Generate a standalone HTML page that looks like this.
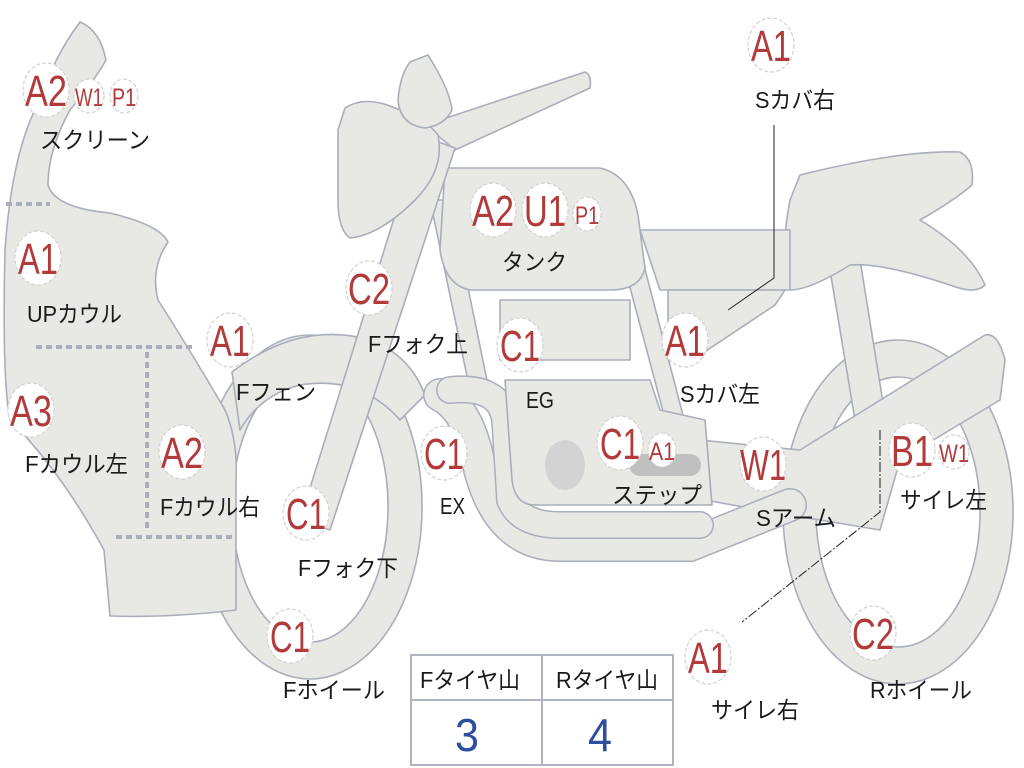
<!DOCTYPE html>
<html><head><meta charset="utf-8"><style>
html,body{margin:0;padding:0;background:#fff;}
svg{display:block;}
.s{fill:#e8e8e5;stroke:#a9aeba;stroke-width:1.6;stroke-linejoin:round;}
.b{fill:#fff;stroke:#d2d2d2;stroke-width:1.2;stroke-dasharray:4 2;}
.r{fill:#b23a3a;font-family:"Liberation Sans",sans-serif;text-anchor:middle;}
.l{fill:#1a1a1a;font-family:"Liberation Sans","Noto Sans CJK JP",sans-serif;font-size:23px;}
</style></head><body>
<svg width="1024" height="768" viewBox="0 0 1024 768" xmlns="http://www.w3.org/2000/svg">
<path class="s" fill-rule="evenodd" d="M310,335 a112,172 0 1,0 0.1,0 Z M310,372 a78,135 0 1,0 0.1,0 Z"/>
<path class="s" fill-rule="evenodd" d="M898,340 a115,172 0 1,0 0.1,0 Z M898,377 a82,135 0 1,0 0.1,0 Z"/>
<path class="s" d="M232,372 Q300,320 370,340 Q410,355 425,395 L400,420 Q360,375 300,385 Q260,395 240,430 Z"/>
<path class="s" d="M80,22 Q100,30 106,60 Q95,80 70,110 Q48,150 48,185 Q55,208 110,213 Q160,225 168,242 Q150,268 158,300 Q190,350 225,410 Q238,440 236,480 L236,610 Q170,618 110,616 L104,550 Q60,470 10,420 Q2,380 5,250 Q12,150 40,100 Q55,55 80,22 Z"/>
<g stroke="#a9aeba" stroke-width="4" stroke-dasharray="6 4" fill="none">
<path d="M6,204 H50"/><path d="M36,347 H192"/><path d="M147,352 V530"/><path d="M116,537 H232"/></g>
<path class="s" d="M830,270 L860,260 L885,415 L855,420 Z"/>
<path class="s" d="M800,175 Q900,150 960,152 Q975,160 972,185 Q955,200 920,220 Q970,250 985,285 Q975,295 950,285 Q880,262 850,265 Q810,290 790,290 Q780,250 790,200 Z"/>
<path class="s" d="M640,230 L790,230 L790,290 L660,290 Z"/>
<path class="s" d="M668,290 L785,290 L775,305 L700,355 L668,345 Z"/>
<path class="s" d="M700,440 L800,450 L985,335 Q998,332 1005,360 L1000,400 L900,460 L880,530 L760,510 L705,500 Z"/>
<path class="s" d="M430,200 L450,200 L490,395 L472,400 Z"/>
<path class="s" d="M620,250 L640,250 L705,500 L688,505 Z"/>
<path d="M440,395 Q470,410 480,470 Q500,545 560,545 L690,545 L790,505" fill="none" stroke="#a9aeba" stroke-width="34" stroke-linecap="round"/>
<path d="M440,395 Q470,410 480,470 Q500,545 560,545 L690,545 L790,505" fill="none" stroke="#e8e8e5" stroke-width="31" stroke-linecap="round"/>
<path d="M450,390 Q500,385 505,420 L510,500 Q520,525 560,525 L700,525" fill="none" stroke="#a9aeba" stroke-width="28" stroke-linecap="round"/>
<path d="M450,390 Q500,385 505,420 L510,500 Q520,525 560,525 L700,525" fill="none" stroke="#e8e8e5" stroke-width="25" stroke-linecap="round"/>
<path class="s" d="M500,300 H630 V360 H500 Z"/>
<path class="s" d="M505,380 H650 L660,410 L705,420 L712,505 L535,505 Q515,505 512,480 Z"/>
<ellipse cx="565" cy="465" rx="20" ry="25" fill="#d3d3d3"/>
<path d="M640,465 L690,465" stroke="#c0c0c0" stroke-width="22" stroke-linecap="round"/>
<path class="s" d="M445,168 L600,168 Q630,175 638,215 L645,268 Q640,290 610,290 L470,290 Q445,285 440,250 Z"/>
<path class="s" d="M425,125 L585,72 Q592,75 590,88 L455,150 Z"/>
<path class="s" d="M420,135 L455,148 L330,530 L300,520 Z"/>
<path class="s" d="M345,108 Q365,95 395,108 Q425,118 438,135 Q445,170 415,200 Q380,235 350,238 Q338,230 338,200 L338,130 Z"/>
<path class="s" d="M410,62 L428,55 Q450,90 452,110 Q445,125 425,128 Q400,125 398,100 Q400,75 410,62 Z"/>
<g stroke="#222" stroke-width="1" fill="none">
<path d="M774,125 V278 L728,310"/>
<path d="M880,430 V512 L742,622" stroke-dasharray="10 2 2 2"/>
</g>
<g>
<ellipse class="b" cx="46" cy="90" rx="23" ry="27"/><text class="r" x="46" y="106" font-size="44" textLength="42" lengthAdjust="spacingAndGlyphs">A2</text>
<ellipse class="b" cx="89" cy="96" rx="15" ry="17"/><text class="r" x="89" y="106" font-size="25" textLength="28" lengthAdjust="spacingAndGlyphs">W1</text>
<ellipse class="b" cx="124" cy="96" rx="14" ry="17"/><text class="r" x="124" y="106" font-size="25" textLength="24" lengthAdjust="spacingAndGlyphs">P1</text>
<ellipse class="b" cx="38" cy="258" rx="23" ry="27"/><text class="r" x="38" y="274" font-size="44" textLength="40" lengthAdjust="spacingAndGlyphs">A1</text>
<ellipse class="b" cx="31" cy="410" rx="23" ry="27"/><text class="r" x="31" y="426" font-size="44" textLength="42" lengthAdjust="spacingAndGlyphs">A3</text>
<ellipse class="b" cx="182" cy="452" rx="23" ry="27"/><text class="r" x="182" y="468" font-size="44" textLength="42" lengthAdjust="spacingAndGlyphs">A2</text>
<ellipse class="b" cx="230" cy="340" rx="23" ry="27"/><text class="r" x="230" y="356" font-size="44" textLength="40" lengthAdjust="spacingAndGlyphs">A1</text>
<ellipse class="b" cx="369" cy="288" rx="23" ry="27"/><text class="r" x="369" y="304" font-size="44" textLength="42" lengthAdjust="spacingAndGlyphs">C2</text>
<ellipse class="b" cx="306" cy="513" rx="23" ry="27"/><text class="r" x="306" y="529" font-size="44" textLength="40" lengthAdjust="spacingAndGlyphs">C1</text>
<ellipse class="b" cx="290" cy="636" rx="23" ry="27"/><text class="r" x="290" y="652" font-size="44" textLength="40" lengthAdjust="spacingAndGlyphs">C1</text>
<ellipse class="b" cx="493" cy="210" rx="23" ry="27"/><text class="r" x="493" y="226" font-size="44" textLength="42" lengthAdjust="spacingAndGlyphs">A2</text>
<ellipse class="b" cx="545" cy="210" rx="23" ry="27"/><text class="r" x="545" y="226" font-size="44" textLength="42" lengthAdjust="spacingAndGlyphs">U1</text>
<ellipse class="b" cx="587" cy="214" rx="14" ry="17"/><text class="r" x="587" y="224" font-size="25" textLength="24" lengthAdjust="spacingAndGlyphs">P1</text>
<ellipse class="b" cx="520" cy="345" rx="23" ry="27"/><text class="r" x="520" y="361" font-size="44" textLength="40" lengthAdjust="spacingAndGlyphs">C1</text>
<ellipse class="b" cx="444" cy="453" rx="23" ry="27"/><text class="r" x="444" y="469" font-size="44" textLength="40" lengthAdjust="spacingAndGlyphs">C1</text>
<ellipse class="b" cx="620" cy="443" rx="23" ry="27"/><text class="r" x="620" y="459" font-size="44" textLength="40" lengthAdjust="spacingAndGlyphs">C1</text>
<ellipse class="b" cx="662" cy="450" rx="14" ry="17"/><text class="r" x="662" y="460" font-size="25" textLength="26" lengthAdjust="spacingAndGlyphs">A1</text>
<ellipse class="b" cx="685" cy="340" rx="23" ry="27"/><text class="r" x="685" y="356" font-size="44" textLength="40" lengthAdjust="spacingAndGlyphs">A1</text>
<ellipse class="b" cx="763" cy="464" rx="23" ry="27"/><text class="r" x="763" y="480" font-size="44" textLength="46" lengthAdjust="spacingAndGlyphs">W1</text>
<ellipse class="b" cx="912" cy="450" rx="23" ry="27"/><text class="r" x="912" y="466" font-size="44" textLength="42" lengthAdjust="spacingAndGlyphs">B1</text>
<ellipse class="b" cx="954" cy="452" rx="15" ry="17"/><text class="r" x="954" y="462" font-size="25" textLength="30" lengthAdjust="spacingAndGlyphs">W1</text>
<ellipse class="b" cx="771" cy="45" rx="23" ry="27"/><text class="r" x="771" y="61" font-size="44" textLength="40" lengthAdjust="spacingAndGlyphs">A1</text>
<ellipse class="b" cx="708" cy="657" rx="23" ry="27"/><text class="r" x="708" y="673" font-size="44" textLength="40" lengthAdjust="spacingAndGlyphs">A1</text>
<ellipse class="b" cx="873" cy="633" rx="23" ry="27"/><text class="r" x="873" y="649" font-size="44" textLength="42" lengthAdjust="spacingAndGlyphs">C2</text>
</g>
<g class="l">
<text x="40" y="148" textLength="110" lengthAdjust="spacingAndGlyphs">スクリーン</text>
<text x="27" y="322" textLength="95" lengthAdjust="spacingAndGlyphs">UPカウル</text>
<text x="25" y="472" textLength="103" lengthAdjust="spacingAndGlyphs">Fカウル左</text>
<text x="160" y="515" textLength="100" lengthAdjust="spacingAndGlyphs">Fカウル右</text>
<text x="236" y="400" textLength="80" lengthAdjust="spacingAndGlyphs">Fフェン</text>
<text x="368" y="352" textLength="100" lengthAdjust="spacingAndGlyphs">Fフォク上</text>
<text x="298" y="576" textLength="100" lengthAdjust="spacingAndGlyphs">Fフォク下</text>
<text x="283" y="698" textLength="102" lengthAdjust="spacingAndGlyphs">Fホイール</text>
<text x="502" y="270" textLength="65" lengthAdjust="spacingAndGlyphs">タンク</text>
<text x="526" y="408" textLength="28" lengthAdjust="spacingAndGlyphs">EG</text>
<text x="440" y="514" textLength="25" lengthAdjust="spacingAndGlyphs">EX</text>
<text x="612" y="503" textLength="90" lengthAdjust="spacingAndGlyphs">ステップ</text>
<text x="680" y="402" textLength="80" lengthAdjust="spacingAndGlyphs">Sカバ左</text>
<text x="755" y="108" textLength="80" lengthAdjust="spacingAndGlyphs">Sカバ右</text>
<text x="756" y="526" textLength="80" lengthAdjust="spacingAndGlyphs">Sアーム</text>
<text x="900" y="508" textLength="87" lengthAdjust="spacingAndGlyphs">サイレ左</text>
<text x="711" y="718" textLength="88" lengthAdjust="spacingAndGlyphs">サイレ右</text>
<text x="870" y="698" textLength="102" lengthAdjust="spacingAndGlyphs">Rホイール</text>
</g>
<g stroke="#b0b4c0" stroke-width="2" fill="none">
<rect x="411" y="655" width="262" height="110" fill="#fff"/>
<path d="M411,700 H673 M542,655 V765"/>
</g>
<g class="l">
<text x="420" y="688" textLength="100" lengthAdjust="spacingAndGlyphs">Fタイヤ山</text>
<text x="556" y="688" textLength="102" lengthAdjust="spacingAndGlyphs">Rタイヤ山</text>
</g>
<text x="467" y="751" font-family="Liberation Sans,sans-serif" font-size="46" fill="#2e4f9e" text-anchor="middle" textLength="24" lengthAdjust="spacingAndGlyphs">3</text>
<text x="600" y="751" font-family="Liberation Sans,sans-serif" font-size="46" fill="#2e4f9e" text-anchor="middle" textLength="24" lengthAdjust="spacingAndGlyphs">4</text>
</svg>
</body></html>
